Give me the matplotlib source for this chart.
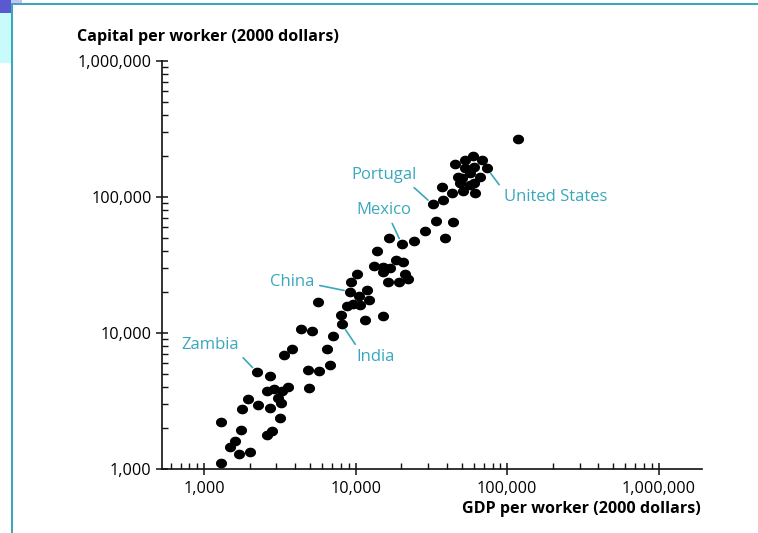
import numpy as np
import matplotlib
matplotlib.use("Agg")
import matplotlib.pyplot as plt
from matplotlib.patches import Rectangle
from matplotlib.path import Path
from matplotlib.ticker import LogLocator, FuncFormatter, NullFormatter

# ---------------- data ----------------
gdp = [2230, 2730, 4820, 2590, 2880, 3250, 3600, 4930, 1940, 2250,
       3060, 3220, 1770, 2730, 3150, 1290, 1750, 2580, 2820, 1590,
       1480, 1710, 2000, 1300, 4360, 5160, 3790, 3370, 7100, 6440,
       6790, 5760, 5680, 7960, 8110, 8750, 9670, 10760, 9200, 10440,
       12280, 11860, 11550, 15120, 10180, 9340, 16510, 20180, 24230, 13800,
       13310, 15120, 16890, 18510, 20580, 15260, 21210, 21980, 16320, 19370,
       32230, 37520, 37240, 43020, 51230, 61490, 33730, 44010, 28540, 38970,
       118700, 59370, 52810, 68080, 45370, 52810, 59920, 73460, 57000, 47700,
       50230, 65650, 48950, 56400, 59920]
capital = [5160, 4790, 5350, 3770, 3870, 3770, 4040, 3950, 3250, 2980,
           3310, 3080, 2750, 2810, 2390, 2220, 1930, 1770, 1900, 1620,
           1460, 1300, 1330, 1110, 10760, 10350, 7630, 6890, 9430, 7600,
           5820, 5260, 16990, 13450, 11590, 15720, 16340, 16070, 20120, 18620,
           17630, 20710, 12400, 13340, 27160, 23590, 49700, 44970, 47640, 40280,
           31250, 30410, 30200, 34180, 33440, 27940, 27010, 24950, 23840, 23590,
           88370, 95050, 117480, 106470, 110700, 106990, 66840, 65830, 55950, 50210,
           267000, 201200, 187200, 187200, 173970, 162550, 167030, 162550, 149400, 141070,
           137990, 139630, 126080, 122510, 126080]

# labelled countries -> index of their point in the arrays above
label_names = ["Zambia", "India", "China", "Mexico", "Portugal", "United States"]
label_index = [0, 34, 38, 47, 60, 77]

x_title = "GDP per worker (2000 dollars)"
y_title = "Capital per worker (2000 dollars)"

# ---------------- style ----------------
TEAL = "#3aa8bc"
FONT = ["Open Sans", "DejaVu Sans"]
plt.rcParams["font.family"] = FONT

W, H = 758, 533
fig = plt.figure(figsize=(W / 100, H / 100), dpi=100)
fig.patch.set_facecolor("white")

# slide decoration (frame)
def fig_rect(x0, y0, x1, y1, color, z=0):
    fig.patches.append(Rectangle((x0 / W, 1 - y1 / H), (x1 - x0) / W, (y1 - y0) / H,
                                 transform=fig.transFigure, facecolor=color,
                                 edgecolor="none", zorder=z))

fig_rect(0, 0, 11, 63, "#c9fbfd")
fig_rect(0, 0, 22, 3, "#c4c4f0")
fig_rect(0, 0, 11, 13, "#5a5ad0")
fig_rect(11, 3, W, 4.5, TEAL, 1)
fig_rect(11, 3, 12.5, H, TEAL, 1)

ax = fig.add_axes([162 / W, 1 - 469 / H, (702 - 162) / W, (469 - 61) / H])
ax.set_xscale("log")
ax.set_yscale("log")
ax.set_xlim(527, 1.93e6)
ax.set_ylim(1000, 1e6)

# elliptical dot marker
th = np.linspace(0, 2 * np.pi, 48)
ell = Path(np.column_stack([1.15 * np.cos(th), np.sin(th)]), closed=True)
ax.scatter(gdp, capital, s=64, marker=ell, c="black", linewidths=0, zorder=3)

# annotations
offsets = {"Zambia": (-34, 19.5), "India": (24.5, -23.8), "China": (-41.8, 7),
           "Mexico": (-12.7, 24.5), "Portugal": (-35, 21.1), "United States": (49.2, -20.7)}
relpos = {"Zambia": (1.0, 0.0), "India": (0.05, 1.0), "China": (1.0, 0.35),
          "Mexico": (0.6, 0.0), "Portugal": (0.88, 0.0), "United States": (0.0, 0.9)}
for name, i in zip(label_names, label_index):
    ax.annotate(name, xy=(gdp[i], capital[i]), xytext=offsets[name],
                textcoords="offset points", ha="center", va="center",
                color=TEAL, fontsize=12,
                arrowprops=dict(arrowstyle="-", color=TEAL, lw=1.2,
                                shrinkA=2, shrinkB=4.5, relpos=relpos[name]))

# axes styling
for s in ("top", "right"):
    ax.spines[s].set_visible(False)
for s in ("left", "bottom"):
    ax.spines[s].set_linewidth(1.2)
    ax.spines[s].set_color("#111111")

fmt = FuncFormatter(lambda v, p: f"{int(round(v)):,}")
for axis in (ax.xaxis, ax.yaxis):
    axis.set_major_locator(LogLocator(base=10, numticks=10))
    axis.set_minor_locator(LogLocator(base=10, subs=np.arange(2, 10), numticks=100))
    axis.set_major_formatter(fmt)
    axis.set_minor_formatter(NullFormatter())
ax.tick_params(which="major", direction="inout", length=9, width=1.1,
               labelsize=11.7, color="#111111")
ax.tick_params(which="minor", direction="in", length=4.5, width=1.0, color="#111111")
ax.tick_params(axis="x", which="major", pad=4)
ax.tick_params(axis="y", which="major", pad=3)

fig.text(701 / W, 1 - 509 / H, x_title, ha="right", va="center",
         fontsize=11.6, fontweight="bold")
fig.text(77 / W, 1 - 37 / H, y_title, ha="left", va="center",
         fontsize=11.6, fontweight="bold")

fig.savefig("out.png", dpi=100)
